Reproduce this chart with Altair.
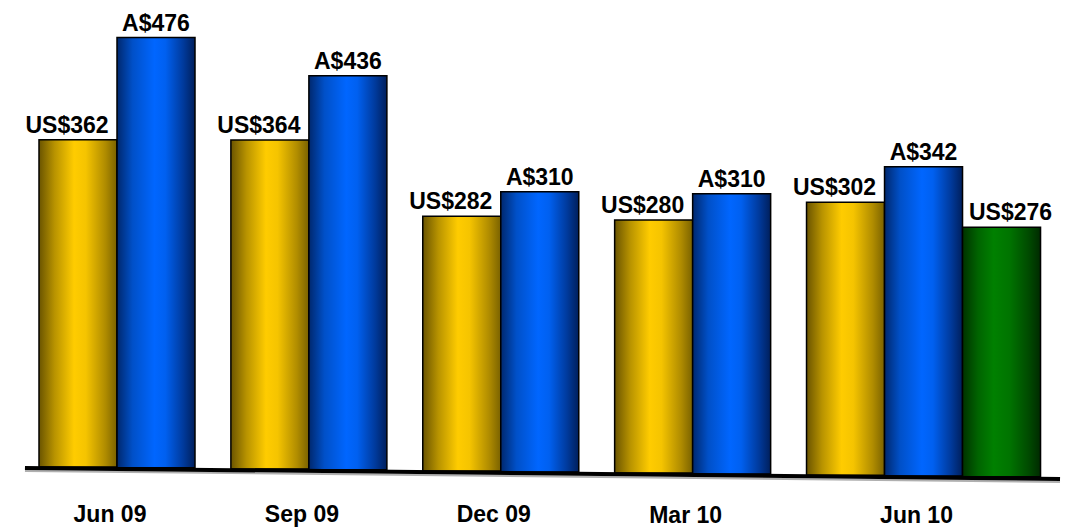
import altair as alt
import pandas as pd

# ---- data ----
categories = ["Jun 09", "Sep 09", "Dec 09", "Mar 10", "Jun 10"]
us_values = [362, 364, 282, 280, 302]
aud_values = [476, 436, 310, 310, 342]
us_new_values = [None, None, None, None, 276]

series = [
    ("us", us_values, "US$"),
    ("aud", aud_values, "A$"),
    ("us2", us_new_values, "US$"),
]

# ---- layout constants (in bar-width units / value units) ----
GROUP_STEP = 2.46       # distance between group starts, in bar widths
SLOPE = -0.92           # baseline drift (value units per bar width), perspective tilt
X_DOMAIN = [-0.5, 13.346]
Y_DOMAIN = [-67.5, 516.6]

rows = []
cat_rows = []
for i, cat in enumerate(categories):
    slot = 0
    for key, vals, prefix in series:
        v = vals[i]
        if v is None:
            continue
        x0 = i * GROUP_STEP + slot
        base = SLOPE * x0
        rows.append(dict(cat=cat, series=key, value=v, x0=x0, x1=x0 + 1,
                         xc=x0 + 0.5, base=base, top=base + v,
                         label=f"{prefix}{v}"))
        slot += 1
    xc = i * GROUP_STEP + slot / 2
    cat_rows.append(dict(cat=cat, xc=xc, ly=-60.8 - 0.12 * (xc - 1)))

df = pd.DataFrame(rows)
cdf = pd.DataFrame(cat_rows)

xs = alt.Scale(domain=X_DOMAIN, nice=False, zero=False)
ys = alt.Scale(domain=Y_DOMAIN, nice=False, zero=False)


def grad(stops):
    return alt.Gradient(
        gradient="linear", x1=0, y1=0, x2=1, y2=0,
        stops=[alt.GradientStop(offset=o, color=c) for o, c in stops],
    )


gold = grad([(0, "#6A5400"), (0.2, "#B89300"), (0.45, "#FFCC00"), (0.6, "#F5C400"), (0.85, "#B08C00"), (1, "#7A6200")])
blue = grad([(0, "#00286E"), (0.2, "#0050C8"), (0.48, "#0066FF"), (0.62, "#0060F0"), (0.85, "#003A9C"), (1, "#001F5C")])
green = grad([(0, "#003200"), (0.2, "#006400"), (0.4, "#008000"), (0.6, "#007400"), (0.85, "#004A00"), (1, "#002A00")])

fills = {"us": gold, "aud": blue, "us2": green}
label_dx = {"us": -11, "aud": 0, "us2": 9}

layers = []
for key in ["us", "aud", "us2"]:
    sub = alt.Chart(df).transform_filter(alt.datum.series == key)
    layers.append(
        sub.mark_bar(color=fills[key], stroke="black", strokeWidth=1.5).encode(
            x=alt.X("x0:Q", scale=xs, axis=None),
            x2="x1:Q",
            y=alt.Y("top:Q", scale=ys, axis=None),
            y2="base:Q",
        )
    )
for key in ["us", "aud", "us2"]:
    sub = alt.Chart(df).transform_filter(alt.datum.series == key)
    layers.append(
        sub.mark_text(font="Liberation Sans", fontWeight="bold", fontSize=23,
                      baseline="alphabetic", align="center", dy=-7,
                      dx=label_dx[key], color="black").encode(
            x=alt.X("xc:Q", scale=xs, axis=None),
            y=alt.Y("top:Q", scale=ys, axis=None),
            text="label:N",
        )
    )

# slanted baseline
base_df = pd.DataFrame([dict(bx0=-0.18, bx1=13.09,
                             by0=SLOPE * (-0.18 - 0.5) - 1.66,
                             by1=SLOPE * (13.09 - 0.5) - 1.66)])
base_shadow = alt.Chart(base_df).mark_rule(color="#B0B0B0", strokeWidth=2).encode(
    x=alt.X("bx0:Q", scale=xs, axis=None), x2="bx1:Q",
    y=alt.Y("sy0:Q", scale=ys, axis=None), y2="sy1:Q",
).transform_calculate(sy0="datum.by0 - 3.3", sy1="datum.by1 - 3.3")
base_rule = alt.Chart(base_df).mark_rule(color="black", strokeWidth=4).encode(
    x=alt.X("bx0:Q", scale=xs, axis=None), x2="bx1:Q",
    y=alt.Y("by0:Q", scale=ys, axis=None), y2="by1:Q",
)

cat_text = alt.Chart(cdf).mark_text(font="Liberation Sans", fontWeight="bold",
                                    fontSize=23, baseline="alphabetic",
                                    align="center", dx=-7, color="black").encode(
    x=alt.X("xc:Q", scale=xs, axis=None),
    y=alt.Y("ly:Q", scale=ys, axis=None),
    text="cat:N",
)

chart = alt.layer(base_shadow, *layers[:3], base_rule, *layers[3:], cat_text).properties(
    width=1080, height=528,
    autosize=alt.AutoSizeParams(type="none"),
    padding=0,
    background="white",
).configure_view(stroke=None)

chart.save("out.html", embed_options={"renderer": "svg", "actions": False})
